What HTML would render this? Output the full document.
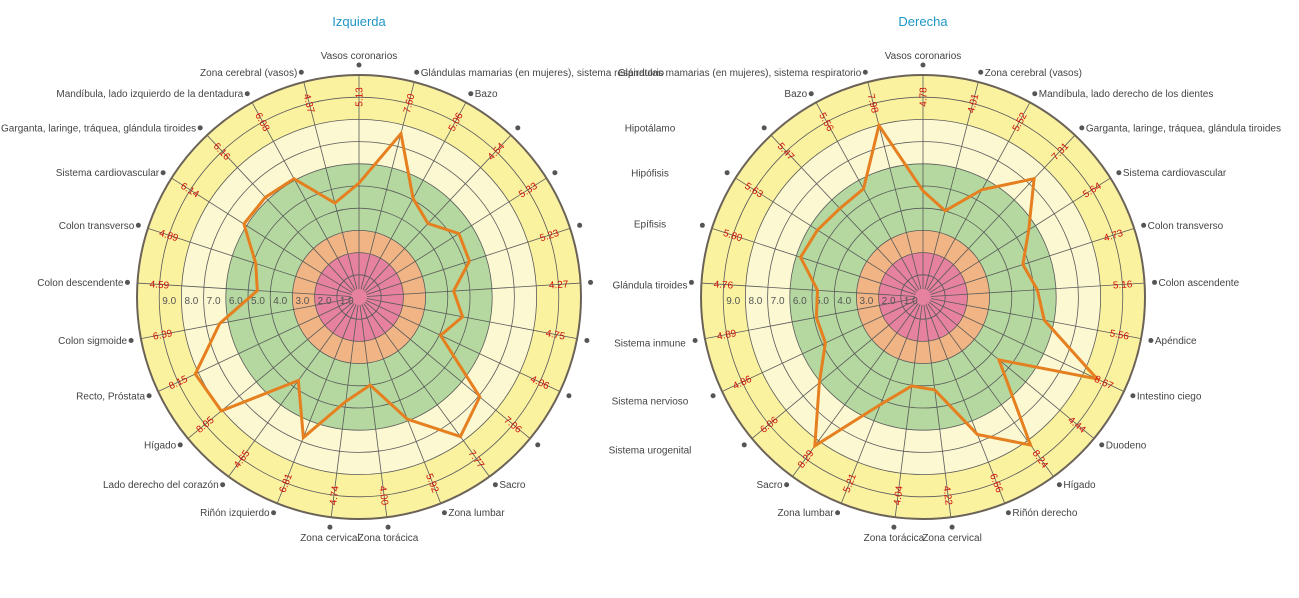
<!DOCTYPE html>
<html><head><meta charset="utf-8"><style>
body{margin:0;background:#fff;width:1299px;height:593px;overflow:hidden}
svg{font-family:"Liberation Sans",sans-serif}
</style></head><body>
<svg id="svg" width="1299" height="593" viewBox="0 0 1299 593"></svg>
<script>
const leftCategories=["Vasos coronarios","Glándulas mamarias (en mujeres), sistema respiratorio","Bazo","","","","","","","","Sacro","Zona lumbar","Zona torácica","Zona cervical","Riñón izquierdo","Lado derecho del corazón","Hígado","Recto, Próstata","Colon sigmoide","Colon descendente","Colon transverso","Sistema cardiovascular","Garganta, laringe, tráquea, glándula tiroides","Mandíbula, lado izquierdo de la dentadura","Zona cerebral (vasos)"];
const leftValues=[5.13,7.60,5.06,4.54,5.33,5.23,4.27,4.75,4.06,7.06,7.77,5.92,4.00,4.74,6.81,4.65,8.05,8.15,6.39,4.59,4.89,6.14,6.16,6.08,4.37];
const rightCategories=["Vasos coronarios","Zona cerebral (vasos)","Mandíbula, lado derecho de los dientes","Garganta, laringe, tráquea, glándula tiroides","Sistema cardiovascular","Colon transverso","Colon ascendente","Apéndice","Intestino ciego","Duodeno","Hígado","Riñón derecho","Zona cervical","Zona torácica","Zona lumbar","Sacro","","","","","","","","Bazo","Glándulas mamarias (en mujeres), sistema respiratorio"];
const rightValues=[4.78,4.01,5.52,7.31,5.64,4.73,5.16,5.56,8.67,4.44,8.24,6.66,4.22,4.04,5.21,8.29,6.06,4.86,4.89,4.76,5.80,5.63,5.47,5.56,7.98];
const tickLabels=["9.0","8.0","7.0","6.0","5.0","4.0","3.0","2.0","1.0"];
const floatingLabels=["Hipotálamo","Hipófisis","Epífisis","Glándula tiroides","Sistema inmune","Sistema nervioso","Sistema urogenital"];
const floatingY=[128,173,224,285,343,401,450];

const NS="http://www.w3.org/2000/svg";
const svg=document.getElementById('svg');
function mk(tag,attrs,parent){const e=document.createElementNS(NS,tag);for(const k in attrs)e.setAttribute(k,attrs[k]);(parent||svg).appendChild(e);return e;}
const R=222, MAXV=10;
function rScale(v){return v/MAXV*R;}

function drawChart(cx,cy,cats,vals,title,name){
  const g=mk('g',{});
  
  
  const n=cats.length;
  const ang=i=>i*2*Math.PI/n;
  const pt=(i,r)=>[cx+r*Math.sin(ang(i)),cy-r*Math.cos(ang(i))];
  const bands=[[10,'#fbf2a0'],[8,'#fcf8d2'],[6,'#b4d89f'],[3,'#f1b585'],[2,'#e6819f']];
  bands.forEach(b=>{const c=mk('circle',{cx:cx,cy:cy,r:rScale(b[0]),fill:b[1]},g);
    
    });
  for(let v=1;v<=9;v++){const c=mk('circle',{cx:cx,cy:cy,r:rScale(v),fill:'none',stroke:'#5a5a5a','stroke-width':0.8},g);
    
    }
  for(let i=0;i<n;i++){const a=pt(i,8),b=pt(i,R);const l=mk('line',{x1:a[0],y1:a[1],x2:b[0],y2:b[1],stroke:'#5a5a5a','stroke-width':0.8},g);
    
    }
  const oc=mk('circle',{cx:cx,cy:cy,r:R,fill:'none',stroke:'#6b6358','stroke-width':2},g);
  
  
  tickLabels.forEach(t=>{const v=parseFloat(t);const tx=mk('text',{x:cx-rScale(v)+10,y:cy+7,'font-size':10,fill:'#555','text-anchor':'middle'},g);tx.textContent=t;
    
    });
  const pts=vals.map((v,i)=>pt(i,rScale(v)).join(',')).join(' ');
  const pl=mk('polygon',{points:pts,fill:'none',stroke:'#e57f1f','stroke-width':3,'stroke-linejoin':'miter'},g);
  
  
  vals.forEach((v,i)=>{const p=pt(i,200);let deg=ang(i)*180/Math.PI;let rot=deg<=180?deg-90:deg-270;
    const t=mk('text',{x:p[0],y:p[1]+3.5,'font-size':10,fill:'#cc1111','text-anchor':'middle',transform:`rotate(${rot} ${p[0]} ${p[1]})`},g);t.textContent=v.toFixed(2);
    
    });
  cats.forEach((c,i)=>{const p=pt(i,232);const d=mk('circle',{cx:p[0],cy:p[1],r:2.5,fill:'#555'},g);
    
    
    if(!c)return;const s=Math.sin(ang(i));let anchor=Math.abs(s)<0.15?'middle':(s>0?'start':'end');
    let x=p[0]+(anchor==='start'?4:anchor==='end'?-4:0);let y=p[1]+3.5;if(anchor==='middle')y=Math.cos(ang(i))>0?p[1]-6:p[1]+14;
    const t=mk('text',{x:x,y:y,'font-size':10,fill:'#444','text-anchor':anchor},g);t.textContent=c;
    
    });
  const tt=mk('text',{x:cx,y:26,'font-size':13,fill:'#1e96c8','text-anchor':'middle'},g);tt.textContent=title;
  
  
}
drawChart(359,297,leftCategories,leftValues,'Izquierda','left-radar');
drawChart(923,297,rightCategories,rightValues,'Derecha','right-radar');
floatingLabels.forEach((l,i)=>{const t=mk('text',{x:650,y:floatingY[i]+3.5,'font-size':10,fill:'#444','text-anchor':'middle'});t.textContent=l;
  
  });
</script>
</body></html>
